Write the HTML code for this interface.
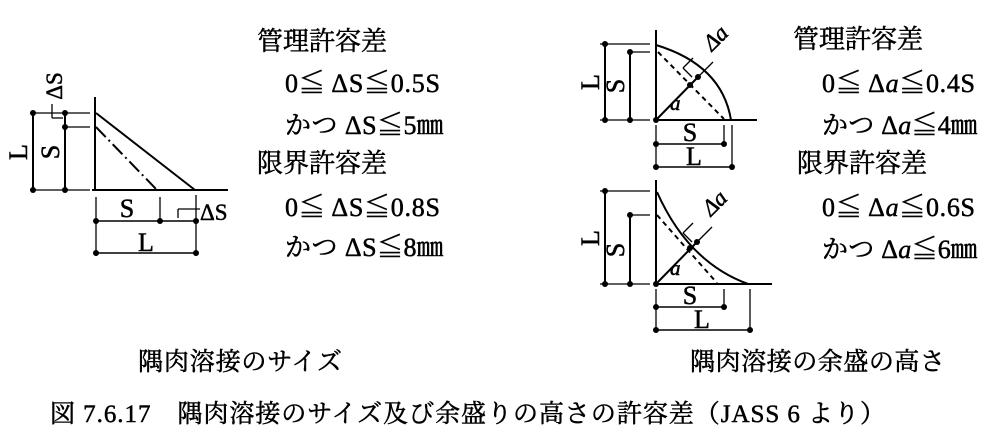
<html><head><style>body{margin:0;background:#fff}svg text{font-family:"Liberation Serif","Noto Serif CJK JP","Noto Serif CJK SC",serif;fill:#000;stroke:#000;stroke-width:0.5}</style></head><body>
<svg width="1000" height="447" viewBox="0 0 1000 447" xmlns="http://www.w3.org/2000/svg">
<g stroke="#000" stroke-width="2" fill="none">
<line x1="95" y1="97" x2="95" y2="190"/>
<line x1="92" y1="190" x2="228" y2="190"/>
<line x1="96" y1="113" x2="195" y2="190"/>
<line x1="96" y1="127" x2="157" y2="190" stroke-dasharray="14,4,2,4"/>
<g stroke-width="1.3">
<line x1="30" y1="113" x2="90" y2="113"/><line x1="62" y1="127" x2="90" y2="127"/><line x1="30" y1="190" x2="90" y2="190"/>
<line x1="52" y1="104" x2="52" y2="118"/><line x1="52" y1="118" x2="63" y2="118"/>
<line x1="96" y1="197" x2="96" y2="256"/><line x1="160" y1="197" x2="160" y2="223"/><line x1="196" y1="195" x2="196" y2="256"/>
<line x1="178" y1="218" x2="178" y2="209"/><line x1="178" y1="209" x2="200" y2="209"/>
</g>
<line x1="33" y1="113" x2="33" y2="190"/><line x1="65" y1="113" x2="65" y2="190"/>
<line x1="96" y1="221" x2="196" y2="221" stroke-width="1.5"/><line x1="96" y1="253" x2="196" y2="253" stroke-width="1.5"/>
<line x1="656" y1="30" x2="656" y2="122"/>
<line x1="655" y1="120" x2="757" y2="120"/>
<path d="M656 45 Q722 65 731 120"/>
<line x1="658" y1="52" x2="724" y2="119" stroke-dasharray="5,4"/>
<line x1="656" y1="120" x2="698" y2="77"/>
<line x1="693" y1="58" x2="683" y2="68" stroke-width="1.3"/><line x1="698" y1="77" x2="713" y2="62" stroke-width="1.3"/>
<line x1="683" y1="68" x2="692" y2="77" stroke-width="1.3"/>
<g stroke-width="1.3"><line x1="600" y1="44" x2="650" y2="44"/><line x1="628" y1="52" x2="650" y2="52"/><line x1="600" y1="120" x2="650" y2="120"/>
<line x1="656" y1="125" x2="656" y2="168"/><line x1="724" y1="125" x2="724" y2="145"/><line x1="732" y1="125" x2="732" y2="168"/></g>
<line x1="605" y1="44" x2="605" y2="120"/><line x1="630" y1="52" x2="630" y2="120"/>
<line x1="656" y1="144" x2="724" y2="144" stroke-width="1.5"/><line x1="656" y1="167" x2="732" y2="167" stroke-width="1.5"/>
<line x1="656" y1="180" x2="656" y2="286"/>
<line x1="655" y1="284" x2="772" y2="284"/>
<path d="M657 192 Q688 262 748 284"/>
<line x1="657" y1="215" x2="717" y2="283" stroke-dasharray="5,4"/>
<line x1="656" y1="284" x2="697" y2="242"/>
<line x1="693" y1="223" x2="683" y2="233" stroke-width="1.3"/><line x1="697" y1="242" x2="712" y2="227" stroke-width="1.3"/>
<line x1="683" y1="233" x2="692" y2="242" stroke-width="1.3"/>
<g stroke-width="1.3"><line x1="600" y1="191" x2="650" y2="191"/><line x1="628" y1="215" x2="650" y2="215"/><line x1="600" y1="284" x2="650" y2="284"/>
<line x1="656" y1="289" x2="656" y2="332"/><line x1="724" y1="289" x2="724" y2="308"/><line x1="750" y1="289" x2="750" y2="332"/></g>
<line x1="605" y1="191" x2="605" y2="284"/><line x1="630" y1="215" x2="630" y2="284"/>
<line x1="656" y1="307" x2="724" y2="307" stroke-width="1.5"/><line x1="656" y1="330" x2="750" y2="330" stroke-width="1.5"/>
</g>
<g fill="#000">
<circle cx="33" cy="113" r="3"/><circle cx="65" cy="113" r="3"/><circle cx="65" cy="127" r="3"/><circle cx="33" cy="190" r="3"/><circle cx="65" cy="190" r="3"/>
<circle cx="96" cy="221" r="3"/><circle cx="160" cy="221" r="3"/><circle cx="196" cy="221" r="3"/><circle cx="96" cy="253" r="3"/><circle cx="196" cy="253" r="3"/>
<circle cx="605" cy="44" r="3"/><circle cx="630" cy="52" r="3"/><circle cx="605" cy="120" r="3"/><circle cx="630" cy="120" r="3"/><circle cx="656" cy="120" r="3"/>
<circle cx="690" cy="85" r="3"/><circle cx="698" cy="77" r="3"/>
<circle cx="656" cy="144" r="3"/><circle cx="724" cy="144" r="3"/><circle cx="656" cy="167" r="3"/><circle cx="732" cy="167" r="3"/>
<circle cx="605" cy="191" r="3"/><circle cx="630" cy="215" r="3"/><circle cx="605" cy="284" r="3"/><circle cx="630" cy="284" r="3"/><circle cx="656" cy="284" r="3"/>
<circle cx="690" cy="248" r="3"/><circle cx="697" cy="242" r="3"/>
<circle cx="656" cy="307" r="3"/><circle cx="724" cy="307" r="3"/><circle cx="656" cy="330" r="3"/><circle cx="750" cy="330" r="3"/>
</g>
<g font-size="26">
<text transform="translate(27,152) rotate(-90)" text-anchor="middle">L</text>
<text transform="translate(59,152) rotate(-90)" text-anchor="middle">S</text>
<text transform="translate(62,86) rotate(-90)" text-anchor="middle" font-size="23">ΔS</text>
<text x="127" y="217" text-anchor="middle">S</text>
<text x="146" y="251" text-anchor="middle">L</text>
<text x="200" y="220" font-size="23">ΔS</text>
<text transform="translate(599,82) rotate(-90)" text-anchor="middle">L</text>
<text transform="translate(624,86) rotate(-90)" text-anchor="middle">S</text>
<text x="690" y="141" text-anchor="middle">S</text>
<text x="694" y="165" text-anchor="middle">L</text>
<text transform="translate(599,238) rotate(-90)" text-anchor="middle">L</text>
<text transform="translate(624,250) rotate(-90)" text-anchor="middle">S</text>
<text x="690" y="304" text-anchor="middle">S</text>
<text x="702" y="328" text-anchor="middle">L</text>
<text transform="translate(712,52) rotate(-45)" font-size="23" font-style="italic">Δ<tspan>a</tspan></text>
<text transform="translate(711,217) rotate(-45)" font-size="23" font-style="italic">Δ<tspan>a</tspan></text>
<text x="670" y="110" font-size="21" font-style="italic">a</text>
<text x="670" y="275" font-size="21" font-style="italic">a</text>
</g>
<g font-size="26">
<text x="257" y="50" textLength="130">管理許容差</text>
<text x="285" y="92" textLength="155">0≦ ΔS≦0.5S</text>
<text x="285" y="134" textLength="158">かつ ΔS≦5㎜</text>
<text x="257" y="172" textLength="130">限界許容差</text>
<text x="285" y="216" textLength="155">0≦ ΔS≦0.8S</text>
<text x="285" y="256" textLength="158">かつ ΔS≦8㎜</text>
<text x="793" y="48" textLength="130">管理許容差</text>
<text x="822" y="92" textLength="153">0≦ Δ<tspan font-style="italic">a</tspan>≦0.4S</text>
<text x="822" y="134" textLength="155">かつ Δ<tspan font-style="italic">a</tspan>≦4㎜</text>
<text x="797" y="172" textLength="130">限界許容差</text>
<text x="822" y="216" textLength="153">0≦ Δ<tspan font-style="italic">a</tspan>≦0.6S</text>
<text x="822" y="258" textLength="155">かつ Δ<tspan font-style="italic">a</tspan>≦6㎜</text>
</g>
<g font-size="25">
<text x="138" y="370" textLength="204">隅肉溶接のサイズ</text>
<text x="690" y="370" textLength="255">隅肉溶接の余盛の高さ</text>
<text x="50" y="422" textLength="835">図 7.6.17　隅肉溶接のサイズ及び余盛りの高さの許容差（JASS 6 より）</text>
</g>
</svg>
</body></html>
